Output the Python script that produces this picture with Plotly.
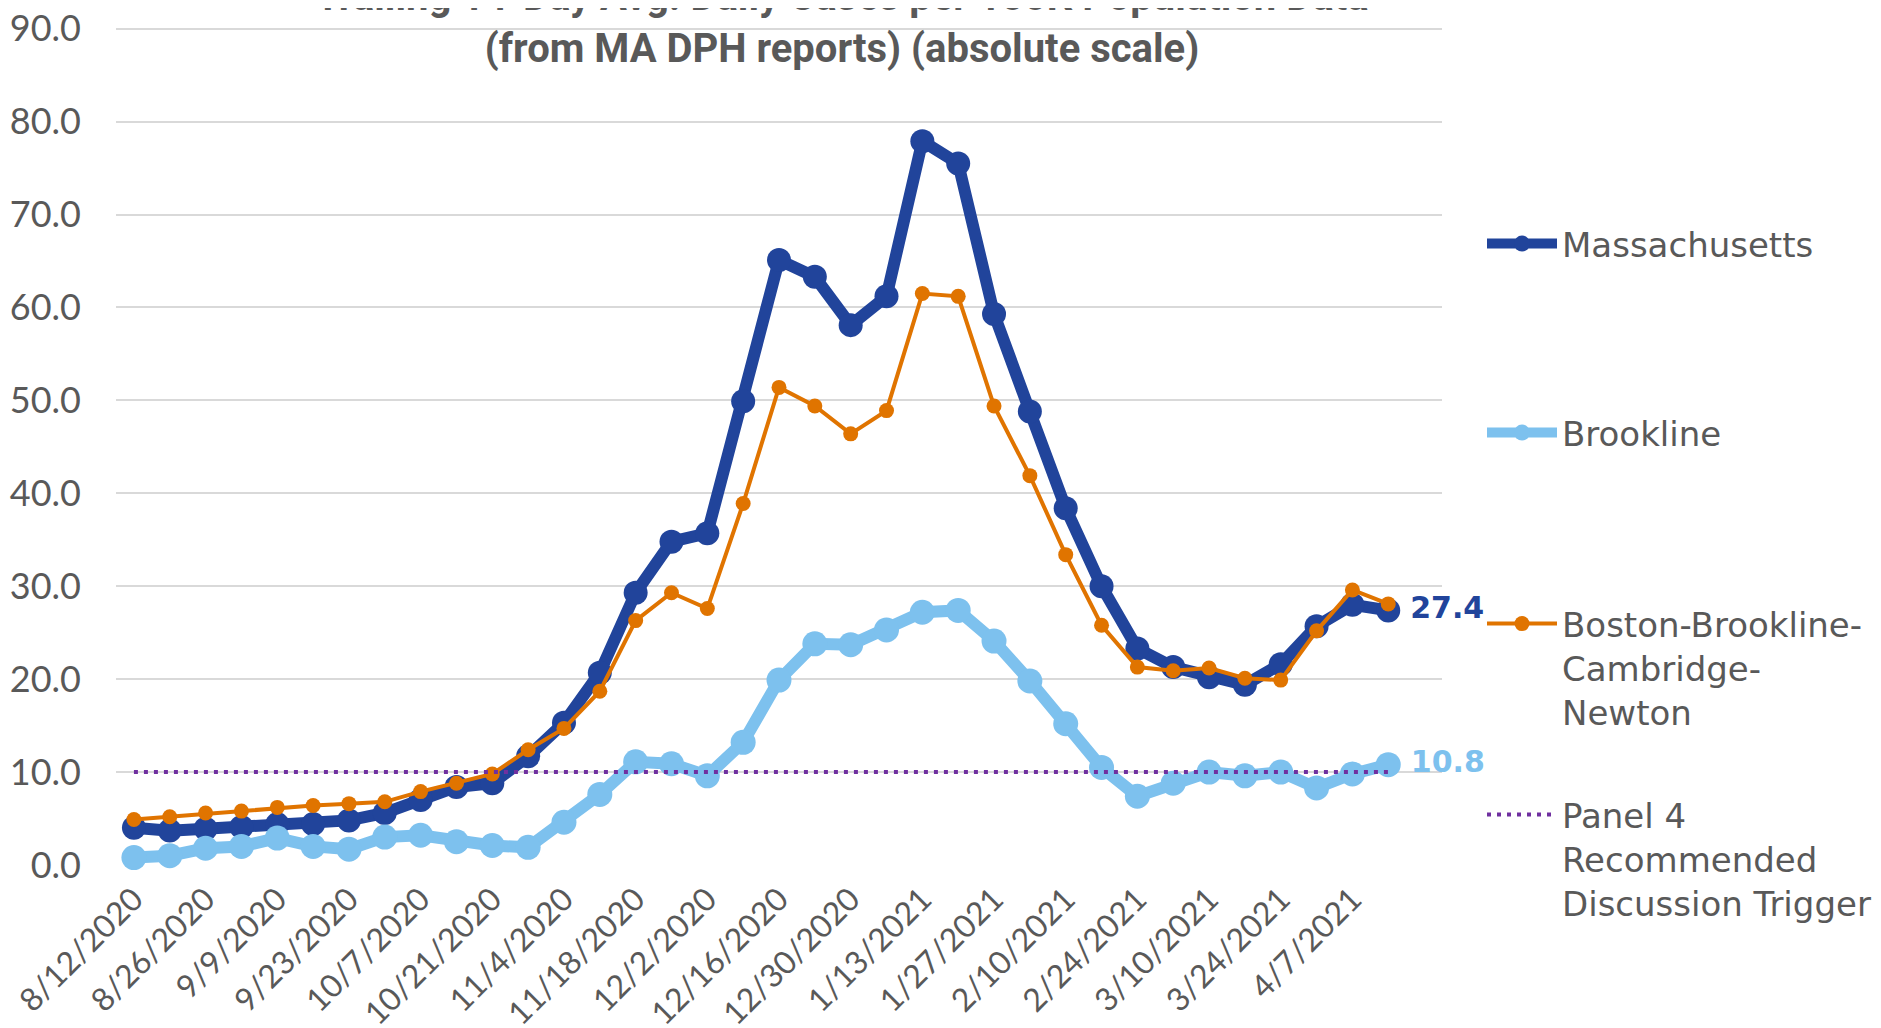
import plotly.graph_objects as go

dates = ['8/12/2020', '8/19/2020', '8/26/2020', '9/2/2020', '9/9/2020', '9/16/2020',
         '9/23/2020', '9/30/2020', '10/7/2020', '10/14/2020', '10/21/2020', '10/28/2020',
         '11/4/2020', '11/11/2020', '11/18/2020', '11/25/2020', '12/2/2020', '12/9/2020',
         '12/16/2020', '12/23/2020', '12/30/2020', '1/6/2021', '1/13/2021', '1/20/2021',
         '1/27/2021', '2/3/2021', '2/10/2021', '2/17/2021', '2/24/2021', '3/3/2021',
         '3/10/2021', '3/17/2021', '3/24/2021', '3/31/2021', '4/7/2021', '4/14/2021']

massachusetts = [4.0, 3.7, 3.9, 4.1, 4.4, 4.4, 4.8, 5.6, 7.0, 8.4, 8.8, 11.7,
                 15.3, 20.7, 29.3, 34.8, 35.7, 49.9, 65.1, 63.3, 58.1, 61.2, 77.9, 75.5,
                 59.3, 48.8, 38.4, 30.0, 23.3, 21.3, 20.2, 19.4, 21.6, 25.7, 28.0, 27.4]

brookline = [0.8, 1.0, 1.8, 2.0, 2.9, 2.0, 1.7, 3.0, 3.2, 2.5, 2.1, 1.9,
             4.6, 7.6, 11.1, 10.9, 9.6, 13.2, 19.9, 23.8, 23.7, 25.3, 27.2, 27.4,
             24.1, 19.8, 15.2, 10.5, 7.4, 8.8, 10.0, 9.6, 10.0, 8.3, 9.8, 10.8]

boston_area = [4.9, 5.2, 5.6, 5.8, 6.2, 6.4, 6.6, 6.8, 7.9, 8.8, 9.8, 12.4,
               14.7, 18.7, 26.3, 29.3, 27.6, 38.9, 51.4, 49.4, 46.4, 48.9, 61.5, 61.2,
               49.4, 41.9, 33.4, 25.8, 21.3, 20.9, 21.2, 20.1, 19.9, 25.2, 29.6, 28.1]

trigger = [10.0] * len(dates)

names = ['Massachusetts', 'Brookline', 'Boston-Brookline-<br>Cambridge-<br>Newton',
         'Panel 4<br>Recommended<br>Discussion Trigger']

DARK = '#21449b'
LIGHT = '#7dc1ee'
ORANGE = '#e07400'
PURPLE = '#7030a0'
GREY = '#595959'


def last_label(vals):
    return [''] * (len(vals) - 1) + ['\u2009%.1f' % vals[-1]]


fig = go.Figure()

fig.add_trace(go.Scatter(
    x=dates, y=massachusetts, name=names[0], legend='legend',
    mode='lines+markers+text', text=last_label(massachusetts), textposition='middle right',
    textfont=dict(family='DejaVu Sans', size=30, color=DARK, weight='bold'), cliponaxis=False,
    line=dict(color=DARK, width=12), marker=dict(color=DARK, size=24)))

fig.add_trace(go.Scatter(
    x=dates, y=brookline, name=names[1], legend='legend2',
    mode='lines+markers+text', text=last_label(brookline), textposition='middle right',
    textfont=dict(family='DejaVu Sans', size=30, color=LIGHT, weight='bold'), cliponaxis=False,
    line=dict(color=LIGHT, width=12), marker=dict(color=LIGHT, size=25)))

fig.add_trace(go.Scatter(
    x=dates, y=boston_area, name=names[2], legend='legend3',
    mode='lines+markers',
    line=dict(color=ORANGE, width=4), marker=dict(color=ORANGE, size=15)))

fig.add_trace(go.Scatter(
    x=dates, y=trigger, name=names[3], legend='legend4',
    mode='lines',
    line=dict(color=PURPLE, width=4, dash='4px,6px')))

# page body adds an 8px offset, so container positions are shifted by that amount
legend_style = dict(xref='container', yref='container', xanchor='left', yanchor='top',
                    valign='top', bgcolor='rgba(0,0,0,0)', itemwidth=70,
                    font=dict(family='DejaVu Sans', size=34, color=GREY))
leg_x = 1474 / 1881
fig.update_layout(
    legend=dict(legend_style, x=leg_x, y=1 - 207 / 1028),
    legend2=dict(legend_style, x=leg_x, y=1 - 396 / 1028),
    legend3=dict(legend_style, x=leg_x, y=1 - 587 / 1028),
    legend4=dict(legend_style, x=leg_x, y=1 - 778 / 1028),
)

fig.update_layout(
    width=1881, height=1028,
    paper_bgcolor='white', plot_bgcolor='white',
    margin=dict(l=108, r=447, t=17, b=171, autoexpand=False),
    title=dict(text='Trailing 14-Day Avg. Daily Cases per 100K Population Data<br>'
                    '(from MA DPH reports) (absolute scale)',
               xref='container', yref='container', x=834 / 1881, xanchor='center',
               y=1 - 2 / 1028, yanchor='middle',
               font=dict(family='Roboto', size=40, color=GREY, weight='bold')),
    font=dict(family='Lato', color=GREY),
    showlegend=True,
)

fig.update_xaxes(
    type='category', range=[-0.5, 36.5], automargin=False,
    tickvals=dates[::2], ticktext=dates[::2], tickangle=-45,
    tickfont=dict(family='Lato', size=32, color=GREY),
    showgrid=False, showline=False, zeroline=False, ticks='', ticklabelstandoff=8)

fig.update_yaxes(
    range=[0, 90.4], tickvals=[0, 10, 20, 30, 40, 50, 60, 70, 80, 90], tickformat='.1f',
    automargin=False, ticklabeloverflow='allow',
    tickfont=dict(family='Lato', size=36, color=GREY),
    showgrid=True, gridcolor='#d9d9d9', gridwidth=2,
    zeroline=False, showline=False, ticks='', ticklabelstandoff=34)

fig.write_html('out.html')
